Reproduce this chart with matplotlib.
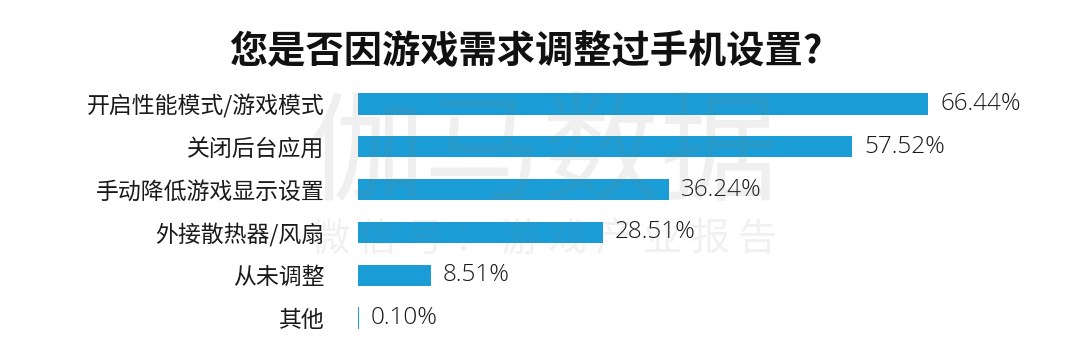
import matplotlib.pyplot as plt

plt.rcParams['font.family'] = ['Noto Sans CJK SC', 'DejaVu Sans']

categories = ['开启性能模式/游戏模式', '关闭后台应用', '手动降低游戏显示设置',
              '外接散热器/风扇', '从未调整', '其他']
values = [66.44, 57.52, 36.24, 28.51, 8.51, 0.10]
value_labels = ['66.44%', '57.52%', '36.24%', '28.51%', '8.51%', '0.10%']
title = '您是否因游戏需求调整过手机设置?'
mark_big = '伽马数据'
mark_small = '微信号：游戏产业报告'

bar_color = '#1a9dd6'

fig = plt.figure(figsize=(10.8, 3.55), dpi=100)
ax = fig.add_axes([358 / 1080, 0.0437, 1 - 358 / 1080, 0.7239])

y = list(range(len(categories)))
ax.barh(y, values, height=0.5, color=bar_color, zorder=2)
ax.set_ylim(len(categories) - 0.5, -0.5)
ax.set_xlim(0, 84.1)

for yi, v, lab in zip(y, values, value_labels):
    ax.text(v + 1.4, yi, lab, va='center', ha='left', fontsize=17.5,
            family=['Open Sans', 'DejaVu Sans'], fontweight='light',
            color='#1a1a1a', zorder=3)

ax.set_yticks(y)
ax.set_yticklabels(categories, fontsize=16.5, color='#1a1a1a')
ax.tick_params(axis='y', length=0, pad=24)
ax.set_xticks([])
for s in ax.spines.values():
    s.set_visible(False)

# watermark, drawn faintly over the bars
fig.text(543 / 1080, 0.555, mark_big, ha='center', va='center', fontsize=85,
         fontweight='light', color='#808080', alpha=0.12, zorder=5)
for i, ch in enumerate(mark_small):
    fig.text((330 + i * 47.5) / 1080, 0.324, ch, ha='center', va='center',
             fontsize=28, fontweight='light', color='#808080', alpha=0.11,
             zorder=5)

fig.text(526 / 1080, 0.855, title, ha='center', va='center', fontsize=27.5,
         fontweight='bold', color='#111111')

fig.savefig('out.png', dpi=100)
